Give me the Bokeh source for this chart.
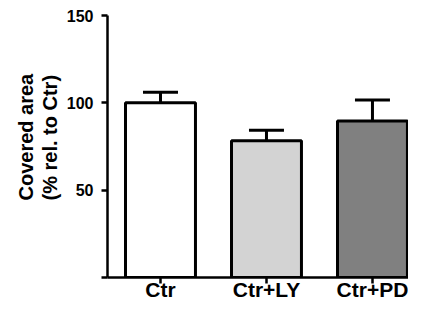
from bokeh.plotting import figure
from bokeh.models import Range1d, FixedTicker, ColumnDataSource, Whisker, TeeHead, Title
from bokeh.embed import file_html
from bokeh.resources import INLINE

categories = ["Ctr", "Ctr+LY", "Ctr+PD"]
values = [100.0, 78.3, 89.6]
errors = [6.0, 6.0, 12.0]
colors = ["#ffffff", "#d3d3d3", "#808080"]
y_ticks = [0, 50, 100, 150]
y_tick_labels = ["", "50", "100", "150"]
y_label = "Covered area\n(% rel. to Ctr)"

xs = [i + 1 for i in range(len(categories))]
upper = [v + e for v, e in zip(values, errors)]
src = ColumnDataSource(dict(x=xs, top=values, upper=upper, color=colors))

FONT = "Liberation Sans"

p = figure(width=408, height=303, output_backend="svg", toolbar_location=None,
           x_range=Range1d(0.5, 3.34), y_range=Range1d(0, 150),
           min_border_left=107, min_border_right=0, min_border_top=15, min_border_bottom=22)
p.outline_line_color = None
p.grid.visible = False
p.background_fill_color = "white"
p.border_fill_color = "white"

p.vbar(x="x", top="top", bottom=0, width=0.66, source=src, fill_color="color",
       line_color="black", line_width=3)

w = Whisker(base="x", lower="top", upper="upper", source=src, line_color="black", line_width=3,
            upper_head=TeeHead(size=35, line_color="black", line_width=3), lower_head=None)
p.add_layout(w)

# x axis
xa = p.xaxis[0]
xa.ticker = FixedTicker(ticks=xs)
xa.major_label_overrides = {x: c for x, c in zip(xs, categories)}
xa.major_label_text_font = FONT
xa.major_label_text_font_style = "bold"
xa.major_label_text_font_size = "21px"
xa.major_label_text_color = "black"
xa.major_label_standoff = -6
xa.major_tick_out = 6
xa.major_tick_in = 0
xa.minor_tick_line_color = None
xa.axis_line_width = 2.5
xa.major_tick_line_width = 2.5
xa.axis_line_color = "black"
xa.major_tick_line_color = "black"

# y axis
ya = p.yaxis[0]
ya.ticker = FixedTicker(ticks=y_ticks)
ya.major_label_overrides = {t: l for t, l in zip(y_ticks, y_tick_labels)}
ya.major_label_text_font = FONT
ya.major_label_text_font_style = "bold"
ya.major_label_text_font_size = "16px"
ya.major_label_text_color = "black"
ya.major_label_standoff = 8
ya.major_tick_out = 6
ya.major_tick_in = 0
ya.minor_tick_line_color = None
ya.axis_line_width = 2.5
ya.major_tick_line_width = 2.5
ya.axis_line_color = "black"
ya.major_tick_line_color = "black"

t = Title(text=y_label, align="left", offset=77, text_font=FONT, text_font_style="bold",
          text_font_size="20px", text_color="black", standoff=4, text_line_height=1.1)
p.add_layout(t, "left")

open("out.html", "w").write(file_html(p, INLINE))
